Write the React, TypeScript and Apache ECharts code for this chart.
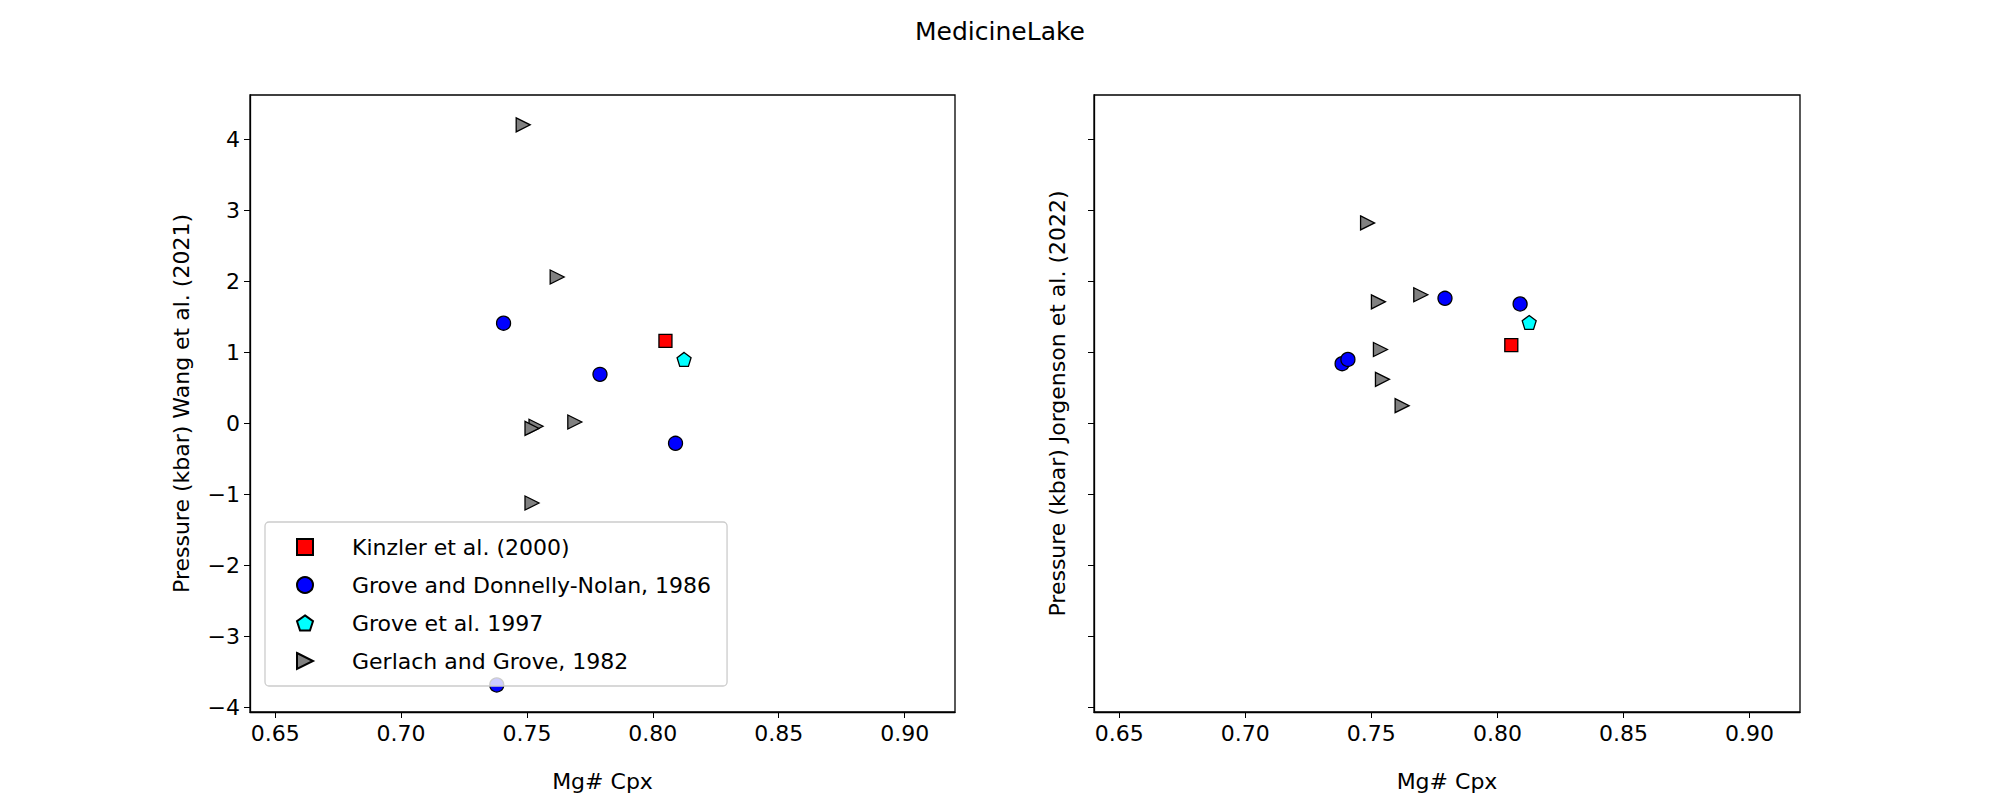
import { useEffect, useRef } from "react";
import * as echarts from "echarts";

const title = "MedicineLake";
const xTicks = [0.65, 0.7, 0.75, 0.8, 0.85, 0.9];
const yTicks = [-4, -3, -2, -1, 0, 1, 2, 3, 4];

const seriesNames = [
    "Kinzler et al. (2000)",
    "Grove and Donnelly-Nolan, 1986",
    "Grove et al. 1997",
    "Gerlach and Grove, 1982",
];

// left panel: Wang et al. (2021)
const wangKinzler = [[0.805, 1.16]];
const wangGroveDN = [[0.7407, 1.41], [0.779, 0.69], [0.809, -0.28], [0.738, -3.68]];
const wangGrove97 = [[0.8124, 0.9]];
const wangGerlach = [[0.7485, 4.2], [0.762, 2.06], [0.7536, -0.04], [0.752, -0.07], [0.769, 0.02], [0.752, -1.12]];

// right panel: Jorgenson et al. (2022)
const jorgKinzler = [[0.8055, 1.1]];
const jorgGroveDN = [[0.7384, 0.84], [0.7407, 0.9], [0.7792, 1.76], [0.809, 1.68]];
const jorgGrove97 = [[0.8126, 1.42]];
const jorgGerlach = [[0.7485, 2.82], [0.7528, 1.71], [0.7696, 1.81], [0.7536, 1.04], [0.7544, 0.62], [0.7622, 0.25]];

const FONT = "DejaVu Sans";
const FS = 22;
const TRI = "path://M0,0 L10,5 L0,10 Z";
const PENT = "path://M50,0 L97.6,34.5 L79.4,90.5 L20.6,90.5 L2.4,34.5 Z";

const styles = [
    { symbol: "rect", size: 13, color: "#ff0000" },
    { symbol: "circle", size: 14, color: "#0000ff" },
    { symbol: PENT, size: 14, color: "#00ffff" },
    { symbol: TRI, size: 14, color: "#808080" },
];

export default function App() {
    const ref = useRef<HTMLDivElement | null>(null);

    useEffect(() => {
        document.body.style.margin = "0";
        if (!ref.current) return;
        const chart = echarts.init(ref.current, undefined, { renderer: "svg" });

        const xAxis = (gi: number) => ({
            type: "value",
            gridIndex: gi,
            min: 0.64,
            max: 0.92,
            name: "Mg# Cpx",
            nameLocation: "middle",
            nameGap: 58,
            nameTextStyle: { fontFamily: FONT, fontSize: FS, color: "#000" },
            axisLine: { onZero: false, lineStyle: { color: "#000", width: 1.3 } },
            axisTick: { show: true, length: 6, customValues: xTicks, lineStyle: { color: "#000" } },
            axisLabel: {
                customValues: xTicks,
                fontFamily: FONT,
                fontSize: FS,
                color: "#000",
                margin: 10,
                formatter: (v: number) => v.toFixed(2),
            },
            splitLine: { show: false },
        });

        const yAxis = (gi: number, name: string, showLabels: boolean, gap: number) => ({
            type: "value",
            gridIndex: gi,
            min: -4.06,
            max: 4.62,
            name,
            nameLocation: "middle",
            nameGap: gap,
            nameTextStyle: { fontFamily: FONT, fontSize: FS, color: "#000" },
            axisLine: { onZero: false, lineStyle: { color: "#000", width: 1.3 } },
            axisTick: { show: true, length: 6, customValues: yTicks, lineStyle: { color: "#000" } },
            axisLabel: {
                show: showLabels,
                customValues: yTicks,
                fontFamily: FONT,
                fontSize: FS,
                color: "#000",
                margin: 10,
                formatter: (v: number) => (v < 0 ? "\u2212" + Math.abs(v) : String(v)),
            },
            splitLine: { show: false },
        });

        const mk = (name: string, data: number[][], i: number, gi: number) => ({
            name,
            type: "scatter",
            xAxisIndex: gi,
            yAxisIndex: gi,
            data,
            symbol: styles[i].symbol,
            symbolSize: styles[i].size,
            itemStyle: { color: styles[i].color, borderColor: "#000", borderWidth: 1.3, opacity: 1 },
        });

        chart.setOption({
            animation: false,
            backgroundColor: "#fff",
            title: {
                text: title,
                left: "center",
                top: 14,
                textStyle: { fontFamily: FONT, fontSize: 25, fontWeight: "normal", color: "#000" },
            },
            grid: [
                { left: 250, top: 95, width: 705, height: 617, show: true, borderColor: "#000", borderWidth: 1.3, backgroundColor: "transparent" },
                { left: 1094, top: 95, width: 706, height: 617, show: true, borderColor: "#000", borderWidth: 1.3, backgroundColor: "transparent" },
            ],
            xAxis: [xAxis(0), xAxis(1)],
            yAxis: [
                yAxis(0, "Pressure (kbar) Wang et al. (2021)", true, 58),
                yAxis(1, "Pressure (kbar) Jorgenson et al. (2022)", false, 26),
            ],
            legend: {
                data: seriesNames,
                orient: "vertical",
                left: 265,
                top: 522,
                width: 551,
                padding: [14, 16, 14, 31],
                itemGap: 16,
                itemWidth: 16,
                itemHeight: 16,
                backgroundColor: "rgba(255,255,255,0.8)",
                borderColor: "#cccccc",
                borderWidth: 1.3,
                borderRadius: 4,
                textStyle: { fontFamily: FONT, fontSize: FS, color: "#000", padding: [0, 0, 0, 34] },
                z: 10,
            },
            series: [
                mk(seriesNames[0], wangKinzler, 0, 0),
                mk(seriesNames[1], wangGroveDN, 1, 0),
                mk(seriesNames[2], wangGrove97, 2, 0),
                mk(seriesNames[3], wangGerlach, 3, 0),
                mk(seriesNames[0], jorgKinzler, 0, 1),
                mk(seriesNames[1], jorgGroveDN, 1, 1),
                mk(seriesNames[2], jorgGrove97, 2, 1),
                mk(seriesNames[3], jorgGerlach, 3, 1),
            ],
        });

        return () => chart.dispose();
    }, []);

    return <div ref={ref} style={{ width: 2000, height: 800 }} />;
}
